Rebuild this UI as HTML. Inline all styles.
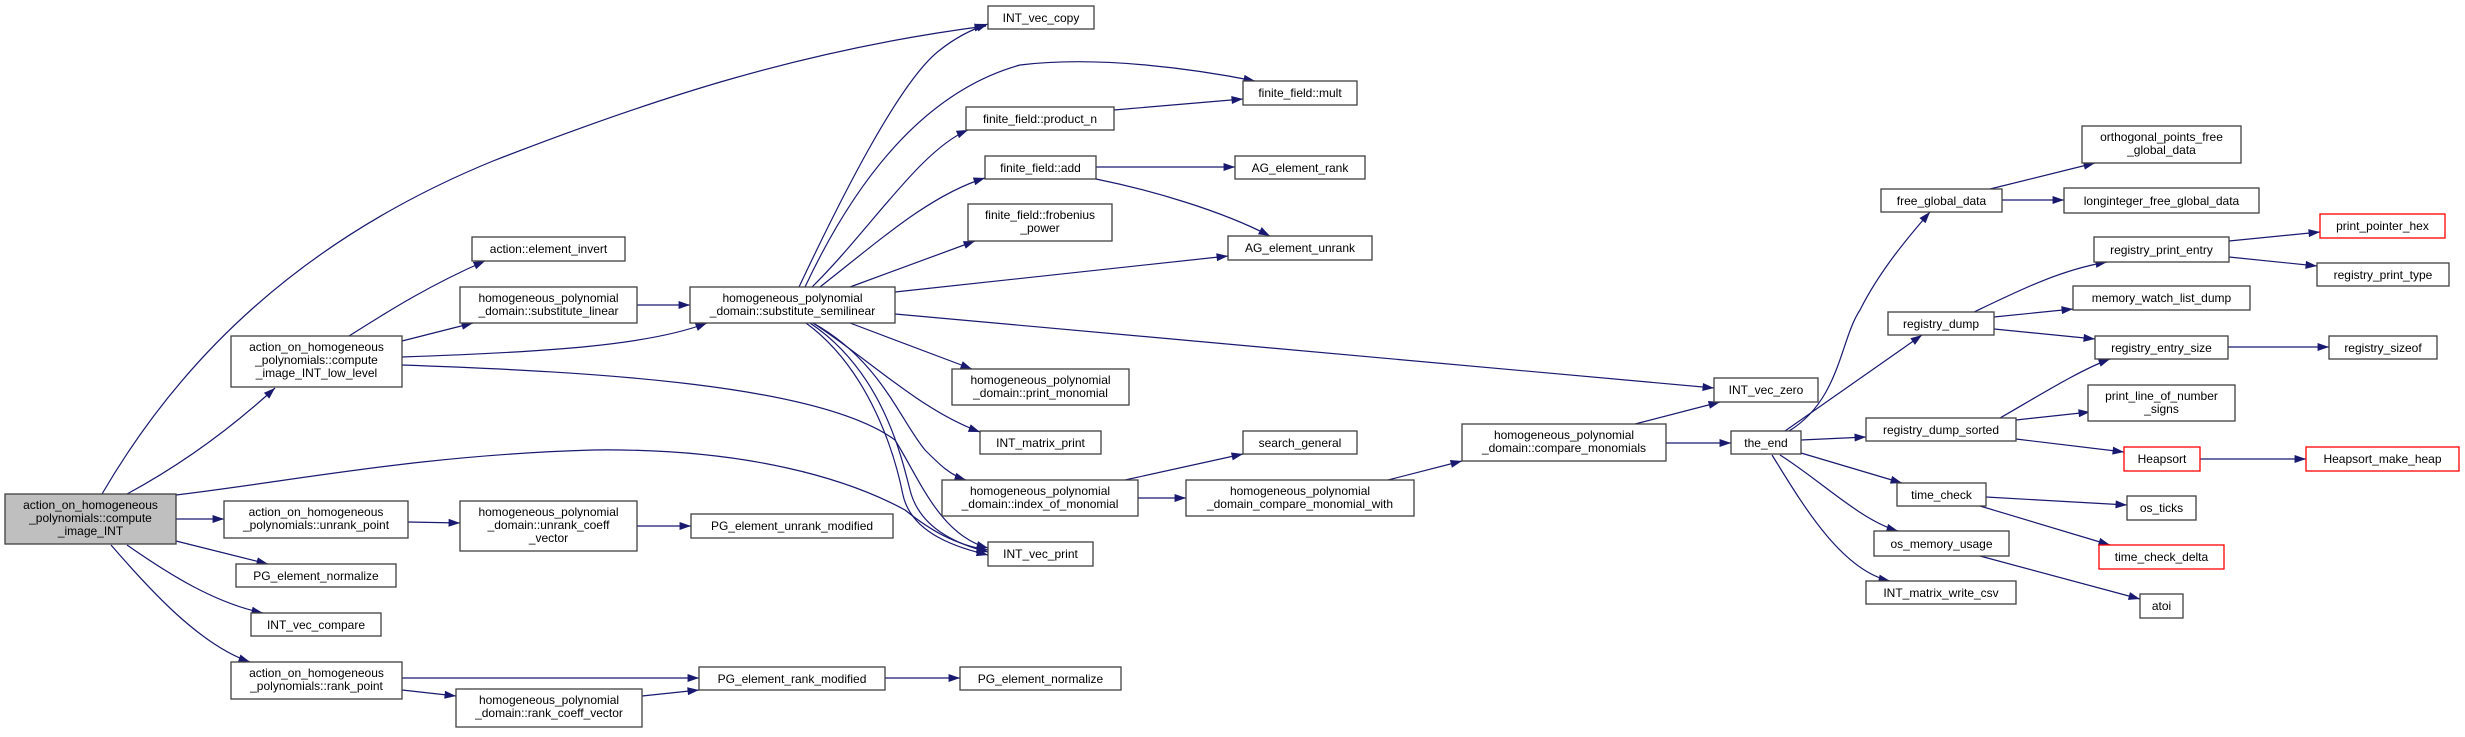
<!DOCTYPE html>
<html><head><meta charset="utf-8"><style>
html,body{margin:0;padding:0;background:#fff;}
svg{display:block;}
text{font-family:"Liberation Sans",Arial,sans-serif;font-size:12px;fill:#000;}
.n{fill:#fff;stroke:#404040;stroke-width:1.3;}
.r{fill:#fff;stroke:#ff0000;stroke-width:1.3;}
.m{fill:#bfbfbf;stroke:#404040;stroke-width:1.3;}
path.e{fill:none;stroke:#191970;stroke-width:1.2;marker-end:url(#a);}
</style></head><body>
<svg width="2465" height="737" viewBox="0 0 2465 737" xmlns="http://www.w3.org/2000/svg">
<defs><marker id="a" viewBox="0 0 10 7" markerWidth="12" markerHeight="8" refX="10" refY="3.5" orient="auto" markerUnits="userSpaceOnUse"><path d="M0,0 L10,3.5 L0,7 z" fill="#191970"/></marker></defs>
<g>
<path class="e" d="M102,494 C180,360 300,240 493,161 C650,100 800,50 986,26"/>
<path class="e" d="M127,494 C190,460 240,420 275,388"/>
<path class="e" d="M176,495 C300,480 420,455 593,450 C750,448 850,480 905,510 C930,530 955,545 988,550"/>
<path class="e" d="M176,519 L224,519"/>
<path class="e" d="M176,541 L268,564"/>
<path class="e" d="M127,545 C170,575 215,603 263,613"/>
<path class="e" d="M111,545 C150,590 200,645 250,662"/>
<path class="e" d="M349,336 C390,310 430,285 485,261"/>
<path class="e" d="M402,341 L473,323"/>
<path class="e" d="M402,357 C550,352 650,345 707,323"/>
<path class="e" d="M402,365 C600,372 820,385 895,440 C920,480 940,535 988,548"/>
<path class="e" d="M637,305 L690,305"/>
<path class="e" d="M799,287 C840,200 900,80 940,50 C955,38 970,30 988,24"/>
<path class="e" d="M805,287 C860,170 930,90 1020,65 C1100,55 1200,70 1255,81"/>
<path class="e" d="M812,287 C870,230 920,150 968,130"/>
<path class="e" d="M820,287 C880,240 930,195 985,178"/>
<path class="e" d="M850,287 L975,241"/>
<path class="e" d="M895,292 L1228,256"/>
<path class="e" d="M895,314 L1714,388"/>
<path class="e" d="M850,323 L972,369"/>
<path class="e" d="M813,323 C870,360 920,410 980,432"/>
<path class="e" d="M813,323 C880,360 900,420 925,450 C940,465 950,475 966,480"/>
<path class="e" d="M810,323 C880,370 900,450 910,490 C920,530 960,545 988,552"/>
<path class="e" d="M806,323 C870,370 895,455 903,495 C912,535 960,548 988,555"/>
<path class="e" d="M1114,110 L1243,99"/>
<path class="e" d="M1096,167 L1235,167"/>
<path class="e" d="M1096,179 C1150,190 1220,210 1270,236"/>
<path class="e" d="M1125,480 L1243,454"/>
<path class="e" d="M1138,498 L1186,498"/>
<path class="e" d="M1388,480 L1462,461"/>
<path class="e" d="M1635,424 L1720,402"/>
<path class="e" d="M1666,443 L1731,443"/>
<path class="e" d="M1789,431 C1840,400 1840,340 1860,310 C1880,270 1910,235 1930,212"/>
<path class="e" d="M1785,431 L1922,335"/>
<path class="e" d="M1801,440 L1866,437"/>
<path class="e" d="M1801,453 L1902,483"/>
<path class="e" d="M1780,455 C1820,480 1860,520 1898,531"/>
<path class="e" d="M1772,455 C1800,500 1840,570 1890,581"/>
<path class="e" d="M1990,189 L2095,163"/>
<path class="e" d="M2002,200 L2064,200"/>
<path class="e" d="M1972,313 C2020,290 2060,270 2107,262"/>
<path class="e" d="M1994,317 L2073,309"/>
<path class="e" d="M1994,329 L2095,339"/>
<path class="e" d="M2229,241 L2320,232"/>
<path class="e" d="M2229,257 L2317,266"/>
<path class="e" d="M2228,347 L2329,347"/>
<path class="e" d="M2000,418 C2040,395 2080,370 2110,359"/>
<path class="e" d="M2016,420 L2090,412"/>
<path class="e" d="M2016,439 L2124,452"/>
<path class="e" d="M2200,459 L2306,459"/>
<path class="e" d="M1986,497 L2127,505"/>
<path class="e" d="M1980,506 L2110,545"/>
<path class="e" d="M1980,556 L2140,599"/>
<path class="e" d="M408,522 L460,523"/>
<path class="e" d="M637,526 L691,526"/>
<path class="e" d="M402,678 L699,678"/>
<path class="e" d="M402,690 L456,696"/>
<path class="e" d="M642,696 L699,690"/>
<path class="e" d="M885,678 L960,678"/>
</g>
<g text-anchor="middle">
<rect class="m" x="5" y="494" width="171" height="50"/><text x="90.5" y="509">action_on_homogeneous</text><text x="90.5" y="522">_polynomials::compute</text><text x="90.5" y="535">_image_INT</text>
<rect class="n" x="231" y="336" width="171" height="51"/><text x="316.5" y="351">action_on_homogeneous</text><text x="316.5" y="364">_polynomials::compute</text><text x="316.5" y="377">_image_INT_low_level</text>
<rect class="n" x="224" y="501" width="184" height="37"/><text x="316" y="516">action_on_homogeneous</text><text x="316" y="529">_polynomials::unrank_point</text>
<rect class="n" x="236" y="564" width="160" height="23"/><text x="316" y="580">PG_element_normalize</text>
<rect class="n" x="251" y="613" width="130" height="23"/><text x="316" y="629">INT_vec_compare</text>
<rect class="n" x="231" y="662" width="171" height="37"/><text x="316.5" y="677">action_on_homogeneous</text><text x="316.5" y="690">_polynomials::rank_point</text>
<rect class="n" x="472" y="237" width="153" height="24"/><text x="548.5" y="253">action::element_invert</text>
<rect class="n" x="460" y="287" width="177" height="36"/><text x="548.5" y="302">homogeneous_polynomial</text><text x="548.5" y="315">_domain::substitute_linear</text>
<rect class="n" x="460" y="501" width="177" height="50"/><text x="548.5" y="516">homogeneous_polynomial</text><text x="548.5" y="529">_domain::unrank_coeff</text><text x="548.5" y="542">_vector</text>
<rect class="n" x="456" y="689" width="186" height="38"/><text x="549" y="704">homogeneous_polynomial</text><text x="549" y="717">_domain::rank_coeff_vector</text>
<rect class="n" x="690" y="287" width="205" height="36"/><text x="792.5" y="302">homogeneous_polynomial</text><text x="792.5" y="315">_domain::substitute_semilinear</text>
<rect class="n" x="691" y="514" width="202" height="24"/><text x="792" y="530">PG_element_unrank_modified</text>
<rect class="n" x="699" y="667" width="186" height="23"/><text x="792" y="683">PG_element_rank_modified</text>
<rect class="n" x="960" y="667" width="161" height="23"/><text x="1040.5" y="683">PG_element_normalize</text>
<rect class="n" x="966" y="107" width="148" height="23"/><text x="1040" y="123">finite_field::product_n</text>
<rect class="n" x="985" y="156" width="111" height="23"/><text x="1040.5" y="172">finite_field::add</text>
<rect class="n" x="968" y="204" width="144" height="37"/><text x="1040" y="219">finite_field::frobenius</text><text x="1040" y="232">_power</text>
<rect class="n" x="952" y="369" width="177" height="36"/><text x="1040.5" y="384">homogeneous_polynomial</text><text x="1040.5" y="397">_domain::print_monomial</text>
<rect class="n" x="980" y="431" width="121" height="23"/><text x="1040.5" y="447">INT_matrix_print</text>
<rect class="n" x="942" y="480" width="196" height="36"/><text x="1040" y="495">homogeneous_polynomial</text><text x="1040" y="508">_domain::index_of_monomial</text>
<rect class="n" x="988" y="542" width="105" height="24"/><text x="1040.5" y="558">INT_vec_print</text>
<rect class="n" x="988" y="6" width="106" height="23"/><text x="1041" y="22">INT_vec_copy</text>
<rect class="n" x="1243" y="81" width="114" height="24"/><text x="1300" y="97">finite_field::mult</text>
<rect class="n" x="1235" y="156" width="130" height="23"/><text x="1300" y="172">AG_element_rank</text>
<rect class="n" x="1228" y="236" width="144" height="24"/><text x="1300" y="252">AG_element_unrank</text>
<rect class="n" x="1243" y="431" width="114" height="23"/><text x="1300" y="447">search_general</text>
<rect class="n" x="1186" y="480" width="228" height="36"/><text x="1300" y="495">homogeneous_polynomial</text><text x="1300" y="508">_domain_compare_monomial_with</text>
<rect class="n" x="1462" y="424" width="204" height="37"/><text x="1564" y="439">homogeneous_polynomial</text><text x="1564" y="452">_domain::compare_monomials</text>
<rect class="n" x="1714" y="378" width="104" height="24"/><text x="1766" y="394">INT_vec_zero</text>
<rect class="n" x="1731" y="431" width="70" height="23"/><text x="1766" y="447">the_end</text>
<rect class="n" x="1881" y="189" width="121" height="23"/><text x="1941.5" y="205">free_global_data</text>
<rect class="n" x="1888" y="312" width="106" height="23"/><text x="1941" y="328">registry_dump</text>
<rect class="n" x="1866" y="418" width="150" height="23"/><text x="1941" y="434">registry_dump_sorted</text>
<rect class="n" x="1897" y="483" width="89" height="23"/><text x="1941.5" y="499">time_check</text>
<rect class="n" x="1874" y="531" width="135" height="25"/><text x="1941.5" y="548">os_memory_usage</text>
<rect class="n" x="1866" y="581" width="150" height="23"/><text x="1941" y="597">INT_matrix_write_csv</text>
<rect class="n" x="2082" y="126" width="159" height="37"/><text x="2161.5" y="141">orthogonal_points_free</text><text x="2161.5" y="154">_global_data</text>
<rect class="n" x="2064" y="188" width="195" height="25"/><text x="2161.5" y="205">longinteger_free_global_data</text>
<rect class="n" x="2094" y="237" width="135" height="25"/><text x="2161.5" y="254">registry_print_entry</text>
<rect class="r" x="2320" y="214" width="125" height="24"/><text x="2382.5" y="230">print_pointer_hex</text>
<rect class="n" x="2317" y="263" width="132" height="23"/><text x="2383" y="279">registry_print_type</text>
<rect class="n" x="2073" y="286" width="177" height="24"/><text x="2161.5" y="302">memory_watch_list_dump</text>
<rect class="n" x="2095" y="336" width="133" height="23"/><text x="2161.5" y="352">registry_entry_size</text>
<rect class="n" x="2329" y="336" width="108" height="23"/><text x="2383" y="352">registry_sizeof</text>
<rect class="n" x="2088" y="385" width="147" height="36"/><text x="2161.5" y="400">print_line_of_number</text><text x="2161.5" y="413">_signs</text>
<rect class="r" x="2124" y="447" width="76" height="24"/><text x="2162" y="463">Heapsort</text>
<rect class="r" x="2306" y="447" width="153" height="24"/><text x="2382.5" y="463">Heapsort_make_heap</text>
<rect class="n" x="2127" y="496" width="69" height="24"/><text x="2161.5" y="512">os_ticks</text>
<rect class="r" x="2099" y="545" width="125" height="24"/><text x="2161.5" y="561">time_check_delta</text>
<rect class="n" x="2140" y="594" width="43" height="24"/><text x="2161.5" y="610">atoi</text>
</g>
</svg>
</body></html>
